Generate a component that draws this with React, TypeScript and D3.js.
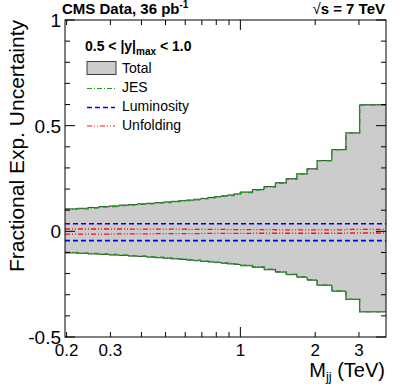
import React from 'react';
import * as d3 from 'd3';

// dijet mass bin edges (TeV)
const massEdges = [
  0.197, 0.220, 0.244, 0.270, 0.296, 0.325, 0.354, 0.386, 0.419, 0.453, 0.489,
  0.526, 0.565, 0.606, 0.649, 0.693, 0.740, 0.788, 0.838, 0.890, 0.944, 1.000,
  1.118, 1.246, 1.383, 1.530, 1.687, 1.856, 2.037, 2.332, 2.659, 3.019, 3.854,
];

const totalUp = [
  0.106, 0.109, 0.113, 0.117, 0.120, 0.124, 0.127, 0.130, 0.133, 0.136, 0.139,
  0.142, 0.145, 0.148, 0.152, 0.156, 0.160, 0.164, 0.168, 0.172, 0.177, 0.186,
  0.198, 0.212, 0.230, 0.249, 0.272, 0.296, 0.335, 0.387, 0.466, 0.599,
];
const totalDown = [
  -0.102, -0.104, -0.107, -0.109, -0.112, -0.114, -0.117, -0.119, -0.122, -0.125, -0.127,
  -0.130, -0.133, -0.136, -0.139, -0.142, -0.145, -0.148, -0.151, -0.154, -0.157, -0.163,
  -0.170, -0.182, -0.193, -0.205, -0.217, -0.231, -0.255, -0.283, -0.322, -0.381,
];
const jesUp = [
  0.104, 0.107, 0.111, 0.115, 0.118, 0.122, 0.125, 0.128, 0.131, 0.134, 0.137,
  0.140, 0.143, 0.146, 0.150, 0.154, 0.158, 0.162, 0.166, 0.170, 0.175, 0.184,
  0.196, 0.210, 0.228, 0.247, 0.271, 0.295, 0.334, 0.386, 0.465, 0.598,
];
const jesDown = [
  -0.100, -0.102, -0.105, -0.107, -0.110, -0.112, -0.115, -0.117, -0.120, -0.123, -0.125,
  -0.128, -0.131, -0.134, -0.137, -0.140, -0.143, -0.146, -0.149, -0.152, -0.155, -0.161,
  -0.168, -0.180, -0.191, -0.203, -0.215, -0.229, -0.254, -0.282, -0.321, -0.380,
];
const unfoldUp = [
  0.011, 0.011, 0.011, 0.011, 0.011, 0.011, 0.010, 0.010, 0.010, 0.010, 0.010,
  0.010, 0.010, 0.009, 0.009, 0.009, 0.009, 0.009, 0.009, 0.008, 0.008, 0.008,
  0.008, 0.008, 0.007, 0.007, 0.007, 0.007, 0.007, 0.007, 0.009, 0.009,
];
const unfoldDown = [
  -0.013, -0.013, -0.013, -0.013, -0.012, -0.012, -0.012, -0.012, -0.012, -0.011, -0.011,
  -0.011, -0.011, -0.011, -0.011, -0.010, -0.010, -0.010, -0.010, -0.010, -0.010, -0.010,
  -0.009, -0.009, -0.009, -0.009, -0.009, -0.009, -0.009, -0.009, -0.008, -0.008,
];
const lumiUp = 0.036;
const lumiDown = -0.044;

const xLabels = [0.2, 0.3, 1, 2, 3];
const xMinorTicks = [0.2, 0.3, 0.4, 0.5, 0.6, 0.7, 0.8, 0.9, 2, 3];
const xMajorTicks = [1];
const yMajorTicks = [-0.5, 0, 0.5, 1];
const yMinorTicks = [-0.4, -0.3, -0.2, -0.1, 0.1, 0.2, 0.3, 0.4, 0.6, 0.7, 0.8, 0.9];

const W = 406;
const H = 389;
const left = 65, right = 386, top = 20, bottom = 337;
const font = '"Liberation Sans", Arial, Helvetica, sans-serif';

const GREEN = '#1f9a1f';
const BLUE = '#0000ff';
const RED = '#ff1010';

export default function App() {
  const x = d3.scaleLog().domain([0.197, 3.854]).range([left, right]);
  const y = d3.scaleLinear().domain([-0.5, 1]).range([bottom, top]);

  const at = (vals: number[], i: number) => vals[Math.min(i, vals.length - 1)];

  const step = (vals: number[]) =>
    d3.line<number>()
      .x(d => x(d))
      .y((_, i) => y(at(vals, i)))
      .curve(d3.curveStepAfter)(massEdges) || '';

  const band = d3.area<number>()
    .x(d => x(d))
    .y0((_, i) => y(at(totalDown, i)))
    .y1((_, i) => y(at(totalUp, i)))
    .curve(d3.curveStepAfter)(massEdges) || '';

  const flat = (v: number) =>
    d3.line<number>().x(d => x(d)).y(() => y(v))([massEdges[0], massEdges[massEdges.length - 1]]) || '';

  const jesDash = '5,2,1,2';
  const lumiDash = '5,3';
  const unfDash = '5,2,1,2,1,2';

  const legendX0 = 87, legendX1 = 115;

  return (
    <svg width={W} height={H} style={{ position: 'absolute', left: 0, top: 0, background: '#fff' }}
      fontFamily={font}>
      <rect x={0} y={0} width={W} height={H} fill="#fff" />

      {/* total band */}
      <path d={band} fill="#cccccc" stroke="none" />
      <path d={step(totalUp)} fill="none" stroke="#3a3a3a" strokeWidth={1} />
      <path d={step(totalDown)} fill="none" stroke="#3a3a3a" strokeWidth={1} />

      {/* JES */}
      <path d={step(jesUp)} fill="none" stroke={GREEN} strokeWidth={1.5} strokeDasharray={jesDash} />
      <path d={step(jesDown)} fill="none" stroke={GREEN} strokeWidth={1.5} strokeDasharray={jesDash} />

      {/* luminosity */}
      <path d={flat(lumiUp)} fill="none" stroke={BLUE} strokeWidth={1.6} strokeDasharray={lumiDash} />
      <path d={flat(lumiDown)} fill="none" stroke={BLUE} strokeWidth={1.6} strokeDasharray={lumiDash} />

      {/* unfolding */}
      <path d={step(unfoldUp)} fill="none" stroke={RED} strokeWidth={1.3} strokeDasharray={unfDash} />
      <path d={step(unfoldDown)} fill="none" stroke={RED} strokeWidth={1.3} strokeDasharray={unfDash} />

      {/* frame */}
      <rect x={left} y={top} width={right - left} height={bottom - top} fill="none" stroke="#000" strokeWidth={1} />

      {/* x ticks */}
      {xMinorTicks.map(t => (
        <g key={'xm' + t}>
          <line x1={x(t)} x2={x(t)} y1={bottom} y2={bottom - 5} stroke="#000" />
          <line x1={x(t)} x2={x(t)} y1={top} y2={top + 5} stroke="#000" />
        </g>
      ))}
      {xMajorTicks.map(t => (
        <g key={'xM' + t}>
          <line x1={x(t)} x2={x(t)} y1={bottom} y2={bottom - 10} stroke="#000" />
          <line x1={x(t)} x2={x(t)} y1={top} y2={top + 10} stroke="#000" />
        </g>
      ))}
      {xLabels.map(t => (
        <text key={'xl' + t} x={x(t)} y={356} fontSize={17} textAnchor="middle">{String(t)}</text>
      ))}

      {/* y ticks */}
      {yMinorTicks.map(t => (
        <g key={'ym' + t}>
          <line x1={left} x2={left + 5} y1={y(t)} y2={y(t)} stroke="#000" />
          <line x1={right} x2={right - 5} y1={y(t)} y2={y(t)} stroke="#000" />
        </g>
      ))}
      {yMajorTicks.map(t => (
        <g key={'yM' + t}>
          <line x1={left} x2={left + 10} y1={y(t)} y2={y(t)} stroke="#000" />
          <line x1={right} x2={right - 10} y1={y(t)} y2={y(t)} stroke="#000" />
          <text x={61} y={y(t) + 7} fontSize={19} textAnchor="end">{String(t)}</text>
        </g>
      ))}

      {/* axis titles */}
      <text transform={`translate(24,${top}) rotate(-90)`} fontSize={21} textAnchor="end">
        Fractional Exp. Uncertainty
      </text>
      <text x={385} y={377} fontSize={20} textAnchor="end">
        M<tspan fontSize={13} dy={4}>jj</tspan><tspan dy={-4}> (TeV)</tspan>
      </text>

      {/* header */}
      <text x={62} y={14} fontSize={15} fontWeight="bold">
        CMS Data, 36 pb<tspan fontSize={10} dy={-6}>-1</tspan>
      </text>
      <text x={385} y={14} fontSize={15} fontWeight="bold" textAnchor="end">
        <tspan fontWeight="normal">√</tspan>s = 7 TeV
      </text>

      {/* legend */}
      <text x={85} y={51} fontSize={14} fontWeight="bold">
        0.5 &lt; |y|<tspan fontSize={10} dy={4}>max</tspan><tspan dy={-4}> &lt; 1.0</tspan>
      </text>
      <rect x={legendX0} y={61.5} width={legendX1 - legendX0 + 1} height={13} fill="#cccccc" stroke="#3a3a3a" />
      <text x={122} y={73} fontSize={14}>Total</text>
      <line x1={legendX0} x2={legendX1} y1={88.5} y2={88.5} stroke={GREEN} strokeWidth={1.2} strokeDasharray={jesDash} />
      <text x={122} y={92} fontSize={14}>JES</text>
      <line x1={legendX0} x2={legendX1} y1={107.5} y2={107.5} stroke={BLUE} strokeWidth={1.4} strokeDasharray={lumiDash} />
      <text x={122} y={111} fontSize={14}>Luminosity</text>
      <line x1={legendX0} x2={legendX1} y1={126} y2={126} stroke={RED} strokeWidth={1.2} strokeDasharray={unfDash} />
      <text x={122} y={130} fontSize={14}>Unfolding</text>
    </svg>
  );
}
